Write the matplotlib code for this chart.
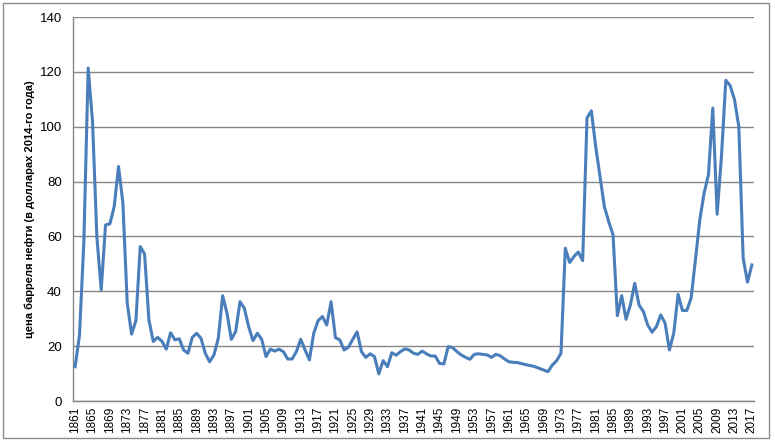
import numpy as np
import matplotlib
matplotlib.use('Agg')
import matplotlib.pyplot as plt
from matplotlib.patches import Rectangle

plt.rcParams['font.family'] = ['Liberation Sans', 'DejaVu Sans']

# oil price per barrel, 2014 dollars
years = list(range(1861, 2018))
prices = [
    12.5, 24.1, 58.0, 121.4, 102.0, 60.0, 40.5, 64.2, 64.6, 70.9,   # 1861-1870
    85.5, 72.2, 35.7, 24.4, 29.3, 56.3, 53.6, 29.6, 21.7, 23.2,     # 1871-1880
    21.8, 18.9, 24.9, 22.3, 22.7, 18.6, 17.4, 23.2, 24.7, 22.9,     # 1881-1890
    17.4, 14.3, 16.8, 22.9, 38.4, 32.0, 22.5, 25.3, 36.2, 33.8,     # 1891-1900
    27.1, 22.0, 24.7, 22.5, 16.2, 18.9, 18.2, 18.9, 18.0, 15.3,     # 1901-1910
    15.3, 18.0, 22.5, 18.6, 15.0, 24.7, 29.3, 30.8, 27.7, 36.2,     # 1911-1920
    23.1, 22.3, 18.6, 19.6, 22.5, 25.2, 18.0, 15.9, 17.2, 16.2,     # 1921-1930
    9.9, 14.7, 12.5, 17.6, 16.7, 18.0, 19.0, 18.6, 17.4, 17.0,      # 1931-1940
    18.2, 17.2, 16.4, 16.4, 13.7, 13.5, 19.8, 19.5, 18.0, 16.8,     # 1941-1950
    15.9, 15.2, 17.0, 17.2, 17.0, 16.8, 15.9, 17.0, 16.5, 15.3,     # 1951-1960
    14.3, 14.1, 14.0, 13.6, 13.2, 12.9, 12.5, 11.9, 11.3, 10.7,     # 1961-1970
    13.1, 14.7, 17.4, 55.7, 50.5, 52.7, 54.3, 51.2, 103.2, 105.8,   # 1971-1980
    92.8, 81.9, 70.9, 65.4, 60.6, 31.1, 38.4, 29.8, 35.0, 42.9,     # 1981-1990
    35.0, 32.6, 27.7, 25.1, 27.1, 31.4, 28.4, 18.6, 24.7, 38.9,     # 1991-2000
    33.0, 33.0, 37.5, 51.5, 66.0, 75.8, 82.5, 106.8, 68.1, 89.2,    # 2001-2010
    116.9, 115.0, 109.9, 100.1, 52.1, 43.3, 49.6,                   # 2011-2017
]
tick_years = years[::4]
ylabel = 'цена барреля нефти (в долларах 2014-го года)'

fig = plt.figure(figsize=(7.75, 4.48), dpi=100)
ax = fig.add_axes([73 / 775, 1 - 401 / 448, 681 / 775, 384 / 448])

idx = np.arange(len(years))
ax.plot(idx, prices, color='#4A7EBB', lw=2.2, solid_joinstyle='round', zorder=3)

ax.set_xlim(-0.5, len(years) - 0.5)
ax.set_ylim(0, 140)
ax.set_yticks(range(0, 141, 20))
ax.yaxis.grid(True, color='#868686', lw=1.0)
ax.set_axisbelow(True)

ax.set_xticks([years.index(y) for y in tick_years])
ax.set_xticklabels([str(y) for y in tick_years], rotation=90, fontsize=8.5)
ax.tick_params(axis='x', length=0, pad=4)
ax.tick_params(axis='y', length=0, pad=8, labelsize=9.5)

for s in ['top', 'right']:
    ax.spines[s].set_visible(False)
for s in ['left', 'bottom']:
    ax.spines[s].set_color('#868686')
    ax.spines[s].set_linewidth(1.0)

ax.set_ylabel(ylabel, fontsize=8, fontweight='bold', labelpad=3)

# chart frame like the spreadsheet object
fig.add_artist(Rectangle((3 / 775, 1 - 438 / 448), 766 / 775, 435 / 448,
                         transform=fig.transFigure, fill=False,
                         edgecolor='#8c8c8c', lw=1.0))

fig.savefig('out.png', dpi=100)
